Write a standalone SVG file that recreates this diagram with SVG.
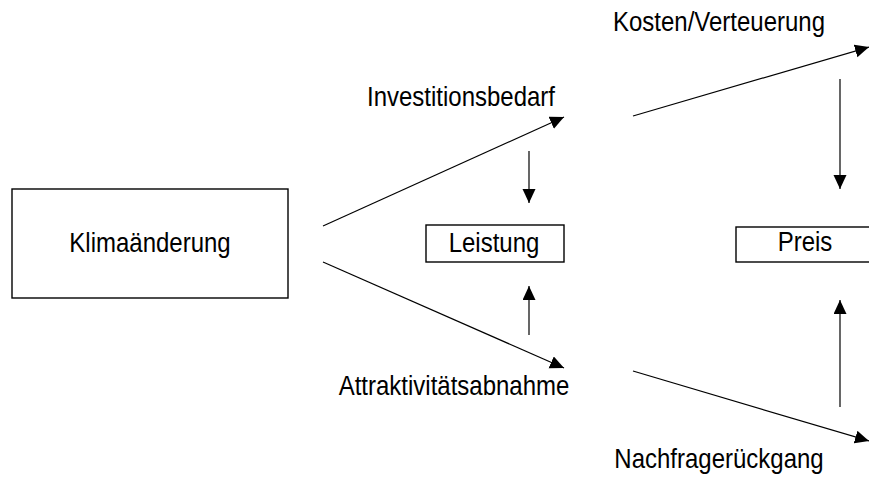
<svg xmlns="http://www.w3.org/2000/svg" width="869" height="477" viewBox="0 0 869 477">
  <defs>
    <marker id="arrow" markerUnits="userSpaceOnUse" markerWidth="16" markerHeight="14" refX="14" refY="6.5" orient="auto">
      <path d="M0,0 L14,6.5 L0,13 z" fill="#000"/>
    </marker>
    <style>
      text { font-family: "Liberation Sans", Arial, sans-serif; font-size: 24px; fill: #000; text-anchor: middle; }
      .box { fill: #fff; stroke: #000; stroke-width: 1.4; }
      .conn line { stroke: #000; stroke-width: 1.2; marker-end: url(#arrow); }
    </style>
  </defs>
  <rect width="869" height="477" fill="#fff"/>

  <g id="klimaaenderung">
    <rect class="box" x="12" y="189" width="276" height="109"/>
    <text transform="translate(150,252) scale(1,1.12)">Klimaänderung</text>
  </g>
  <g id="investitionsbedarf">
    <text transform="translate(461,106) scale(1,1.12)">Investitionsbedarf</text>
  </g>
  <g id="attraktivitaetsabnahme">
    <text transform="translate(454,395) scale(1,1.12)">Attraktivitätsabnahme</text>
  </g>
  <g id="leistung">
    <rect class="box" x="426" y="225" width="138" height="37"/>
    <text transform="translate(494,252) scale(1,1.12)">Leistung</text>
  </g>
  <g id="kosten">
    <text transform="translate(719,31) scale(1,1.12)">Kosten/Verteuerung</text>
  </g>
  <g id="nachfragerueckgang">
    <text transform="translate(719,468) scale(1,1.12)">Nachfragerückgang</text>
  </g>
  <g id="preis">
    <rect class="box" x="736" y="227" width="150" height="35"/>
    <text transform="translate(805,251) scale(1,1.12)">Preis</text>
  </g>

  <g id="connectors" class="conn">
    <line x1="323" y1="226" x2="564" y2="117"/>
    <line x1="323" y1="262" x2="564" y2="368"/>
    <line x1="529" y1="151" x2="529" y2="203"/>
    <line x1="529" y1="335" x2="529" y2="286"/>
    <line x1="633" y1="116" x2="869" y2="47"/>
    <line x1="633" y1="371" x2="869" y2="441"/>
    <line x1="840" y1="79" x2="840" y2="189"/>
    <line x1="840" y1="407" x2="840" y2="300"/>
  </g>
</svg>
